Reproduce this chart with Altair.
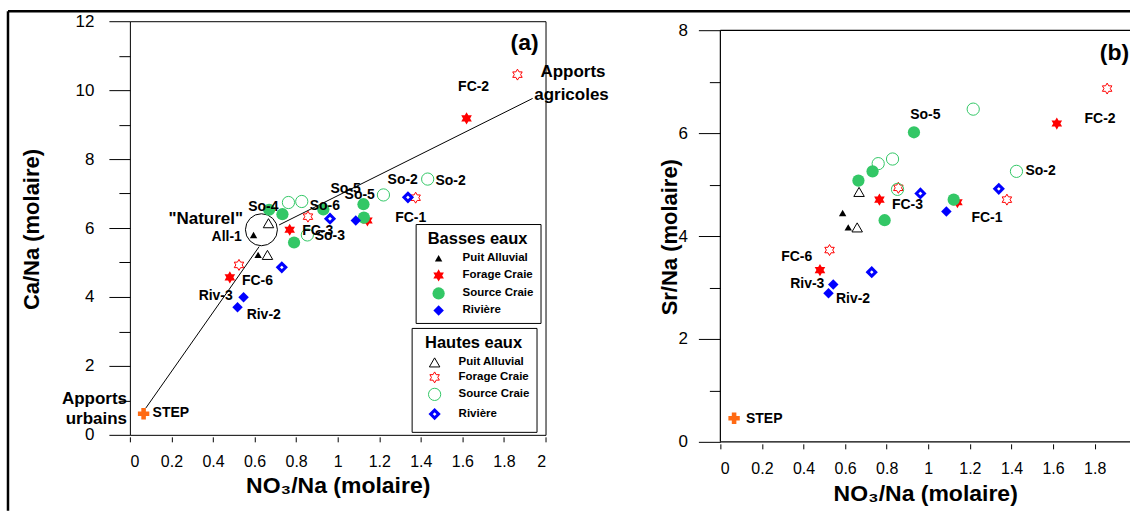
import altair as alt
import pandas as pd

# ---------------- categories / symbols ----------------
TYPES = ["Puit Alluvial", "Forage Craie", "Source Craie", "Rivière"]
STAR = ("M0,-1L0.2887,-0.5L0.866,-0.5L0.5774,0L0.866,0.5L0.2887,0.5L0,1"
        "L-0.2887,0.5L-0.866,0.5L-0.5774,0L-0.866,-0.5L-0.2887,-0.5Z")
SHAPES = ["triangle-up", STAR, "circle", "diamond"]
COLORS = ["#000000", "#ff0000", "#33c766", "#0000ff"]
FILLED_SIZES = [55, 150, 150, 110]
OPEN_SIZES = [110, 120, 150, 64]
OPEN_WIDTHS = [1, 1, 1, 3]

# ---------------- panel (a): Ca/Na vs NO3/Na ----------------
a_be_puit_x = [0.595, 0.617]
a_be_puit_y = [5.80, 5.22]
a_be_forage_x = [1.620, 1.143, 0.769, 0.481]
a_be_forage_y = [9.18, 6.22, 5.95, 4.57]
a_be_source_x = [0.670, 0.734, 0.790, 0.931, 1.124, 1.126]
a_be_source_y = [6.53, 6.40, 5.58, 6.54, 6.69, 6.30]
a_be_riv_x = [0.547, 0.518, 1.087]
a_be_riv_y = [3.99, 3.70, 6.22]

a_he_puit_x = [0.667, 0.662]
a_he_puit_y = [6.14, 5.22]
a_he_forage_x = [1.865, 1.375, 0.857, 0.525]
a_he_forage_y = [10.45, 6.88, 6.33, 4.93]
a_he_source_x = [1.433, 1.220, 0.763, 0.827, 0.854]
a_he_source_y = [7.42, 6.96, 6.74, 6.77, 5.80]
a_he_riv_x = [1.338, 0.963, 0.731]
a_he_riv_y = [6.89, 6.27, 4.86]

a_step_x = [0.066]
a_step_y = [0.61]

# mixing lines (segment id, x, y)
a_line_seg = ["urbain", "urbain", "agricole", "agricole"]
a_line_x = [0.077, 0.622, 0.718, 1.938]
a_line_y = [0.78, 5.46, 6.09, 9.76]

a_nat_x = [0.633]
a_nat_y = [5.95]

a_lab_text = ["FC-2", "So-2", "So-2", "So-5", "So-5", "So-4", "So-6", "FC-1",
              "All-1", "FC-3", "So-3", "FC-6", "Riv-3", "Riv-2", "STEP"]
a_lab_x = [1.654, 1.313, 1.543, 1.038, 1.106, 0.642, 0.938, 1.351,
           0.466, 0.904, 0.962, 0.614, 0.413, 0.644, 0.197]
a_lab_y = [10.10, 7.38, 7.35, 7.12, 6.97, 6.60, 6.65, 6.30,
           5.74, 5.90, 5.78, 4.47, 4.03, 3.48, 0.63]

a_big_text = ["\"Naturel\"", "Apports", "agricoles"]
a_big_x = [0.365, 2.132, 2.125]
a_big_y = [6.26, 10.52, 9.87]

a_urb_text = ["Apports", "urbains"]
a_urb_x = [-0.014, -0.014]
a_urb_y = [1.03, 0.45]

a_tag_text = ["(a)"]
a_tag_x = [1.899]
a_tag_y = [11.36]

# ---------------- panel (b): Sr/Na vs NO3/Na ----------------
b_be_puit_x = [0.588, 0.615]
b_be_puit_y = [4.45, 4.17]
b_be_forage_x = [1.618, 0.765, 1.140, 0.479]
b_be_forage_y = [6.19, 4.71, 4.66, 3.34]
b_be_source_x = [0.664, 0.732, 0.931, 0.790, 1.122]
b_be_source_y = [5.08, 5.26, 6.02, 4.31, 4.71]
b_be_riv_x = [1.087, 0.543, 0.520]
b_be_riv_y = [4.48, 3.06, 2.89]

b_he_puit_x = [0.667, 0.658]
b_he_puit_y = [4.86, 4.17]
b_he_forage_x = [1.860, 0.856, 1.378, 0.525]
b_he_forage_y = [6.87, 4.94, 4.71, 3.73]
b_he_source_x = [0.759, 0.828, 1.216, 1.424, 0.852]
b_he_source_y = [5.41, 5.50, 6.47, 5.26, 4.91]
b_he_riv_x = [0.962, 1.339, 0.728]
b_he_riv_y = [4.83, 4.92, 3.30]

b_step_x = [0.066]
b_step_y = [0.46]

b_lab_text = ["So-5", "FC-2", "So-2", "FC-3", "FC-1", "FC-6", "Riv-3", "Riv-2", "STEP"]
b_lab_x = [0.986, 1.826, 1.540, 0.900, 1.282, 0.367, 0.418, 0.638, 0.211]
b_lab_y = [6.36, 6.28, 5.26, 4.61, 4.35, 3.59, 3.06, 2.78, 0.44]

b_tag_text = ["(b)"]
b_tag_x = [1.895]
b_tag_y = [7.57]

# frame of panel (b) (top, bottom, left) in data units
b_frame_x = [0, 0, 0]
b_frame_x2 = [1.97, 1.97, 0]
b_frame_y = [8, 0, 0]
b_frame_y2 = [8, 0, 8]

FONT = "Liberation Sans"


def group_df(groups):
    rows = []
    for t, xs, ys in groups:
        for x, y in zip(xs, ys):
            rows.append({"x": x, "y": y, "type": t})
    return pd.DataFrame(rows)


def text_df(texts, xs, ys):
    return pd.DataFrame({"x": xs, "y": ys, "label": texts})


def ordinal(rng):
    return alt.Scale(type="ordinal", domain=TYPES, range=rng)


def make_panel(xenc, yenc, be, he, step_x, step_y, labels, legends):
    leg_b, leg_h = legends
    filled = alt.Chart(be).mark_point(filled=True, opacity=1).encode(
        x=xenc, y=yenc,
        shape=alt.Shape("type:N", scale=alt.Scale(domain=TYPES, range=SHAPES), legend=leg_b),
        color=alt.Color("type:N", scale=alt.Scale(domain=TYPES, range=COLORS), legend=leg_b),
        size=alt.Size("type:N", scale=ordinal(FILLED_SIZES), legend=None),
    )
    opened = alt.Chart(he).mark_point(filled=False, opacity=1).encode(
        x=xenc, y=yenc,
        shape=alt.Shape("type:N", scale=alt.Scale(domain=TYPES, range=SHAPES), legend=leg_h),
        color=alt.Color("type:N", scale=alt.Scale(domain=TYPES, range=COLORS), legend=leg_h),
        size=alt.Size("type:N", scale=ordinal(OPEN_SIZES), legend=None),
        strokeWidth=alt.StrokeWidth("type:N", scale=ordinal(OPEN_WIDTHS), legend=None),
    )
    step = alt.Chart(pd.DataFrame({"x": step_x, "y": step_y})).mark_point(
        shape="cross", filled=True, size=130, color="#ff6a13", opacity=1
    ).encode(x=xenc, y=yenc)
    texts = alt.Chart(labels).mark_text(font=FONT, fontSize=14, fontWeight="bold", color="black").encode(
        x=xenc, y=yenc, text="label:N"
    )
    return filled, opened, step, texts


def leg(title, lx, ly, row_pad):
    return alt.Legend(title=title, orient="none", legendX=lx, legendY=ly,
                      symbolStrokeWidth=1.2, rowPadding=row_pad)


# ---------------- axes ----------------
xa = alt.X("x:Q", scale=alt.Scale(domain=[0, 2], nice=False, zero=False),
           axis=alt.Axis(values=[round(i * 0.2, 1) for i in range(11)], format="~g",
                         tickSize=5, offset=2, labelPadding=12, labelFontSize=16,
                         title="NO₃/Na (molaire)", titleFontSize=23, titleY=49,
                         titleBaseline="middle", domain=False, grid=False))
ya = alt.Y("y:Q", scale=alt.Scale(domain=[0, 12], nice=False, zero=False),
           axis=alt.Axis(values=list(range(0, 13)),
                         labelExpr="datum.value % 2 == 0 ? datum.label : ''",
                         tickSize={"condition": {"test": "datum.value % 2 == 0", "value": 21}, "value": 11},
                         labelPadding=15, labelFontSize=17,
                         title="Ca/Na (molaire)", titleFontSize=22, titleX=-98, titleY=208,
                         titleBaseline="middle", domain=False, grid=False))

xb = alt.X("x:Q", scale=alt.Scale(domain=[0, 1.97], nice=False, zero=False),
           axis=alt.Axis(values=[round(i * 0.2, 1) for i in range(10)], format="~g",
                         tickSize=5, offset=2, labelPadding=12, labelFontSize=16,
                         title="NO₃/Na (molaire)", titleFontSize=23, titleY=49.5,
                         titleBaseline="middle", domain=False, grid=False))
yb = alt.Y("y:Q", scale=alt.Scale(domain=[0, 8.18], nice=False, zero=False),
           axis=alt.Axis(values=list(range(0, 9)),
                         labelExpr="datum.value % 2 == 0 ? datum.label : ''",
                         tickSize={"condition": {"test": "datum.value % 2 == 0", "value": 22}, "value": 11},
                         labelPadding=11, labelFontSize=17,
                         title="Sr/Na (molaire)", titleFontSize=22, titleX=-51, titleY=215.7,
                         titleBaseline="middle", domain=False, grid=False))

# ---------------- panel (a) ----------------
a_be = group_df([(TYPES[0], a_be_puit_x, a_be_puit_y), (TYPES[1], a_be_forage_x, a_be_forage_y),
                 (TYPES[2], a_be_source_x, a_be_source_y), (TYPES[3], a_be_riv_x, a_be_riv_y)])
a_he = group_df([(TYPES[0], a_he_puit_x, a_he_puit_y), (TYPES[1], a_he_forage_x, a_he_forage_y),
                 (TYPES[2], a_he_source_x, a_he_source_y), (TYPES[3], a_he_riv_x, a_he_riv_y)])

a_lines = alt.Chart(pd.DataFrame({"seg": a_line_seg, "x": a_line_x, "y": a_line_y})).mark_line(
    color="black", strokeWidth=1).encode(x=xa, y=ya, detail="seg:N")
a_nat = alt.Chart(pd.DataFrame({"x": a_nat_x, "y": a_nat_y})).mark_point(
    shape="circle", size=1024, color="black", strokeWidth=1, filled=False, opacity=1).encode(x=xa, y=ya)

a_f, a_o, a_s, a_t = make_panel(
    xa, ya, a_be, a_he, a_step_x, a_step_y, text_df(a_lab_text, a_lab_x, a_lab_y),
    (leg("Basses eaux", 286, 203, 4), leg("Hautes eaux", 282, 307, 0)))

a_big = alt.Chart(text_df(a_big_text, a_big_x, a_big_y)).mark_text(
    font=FONT, fontSize=17, fontWeight="bold", color="black").encode(x=xa, y=ya, text="label:N")
a_urb = alt.Chart(text_df(a_urb_text, a_urb_x, a_urb_y)).mark_text(
    font=FONT, fontSize=17, fontWeight="bold", color="black", align="right").encode(x=xa, y=ya, text="label:N")
a_tag = alt.Chart(text_df(a_tag_text, a_tag_x, a_tag_y)).mark_text(
    font=FONT, fontSize=23, fontWeight="bold", color="black").encode(x=xa, y=ya, text="label:N")

# outer figure border (decoration)
border_top = alt.Chart().mark_rule(color="black", strokeWidth=2.5).encode(
    x=alt.value(-122), x2=alt.value(1001), y=alt.value(-10))
border_left = alt.Chart().mark_rule(color="black", strokeWidth=2.5).encode(
    x=alt.value(-122), y=alt.value(-10), y2=alt.value(490))

panel_a = alt.layer(
    border_top, border_left, a_lines, a_nat, a_o, a_f, a_s, a_t, a_big, a_urb, a_tag
).resolve_scale(shape="independent", color="independent", size="independent",
                strokeWidth="independent").properties(width=416, height=414)

# ---------------- panel (b) ----------------
b_be = group_df([(TYPES[0], b_be_puit_x, b_be_puit_y), (TYPES[1], b_be_forage_x, b_be_forage_y),
                 (TYPES[2], b_be_source_x, b_be_source_y), (TYPES[3], b_be_riv_x, b_be_riv_y)])
b_he = group_df([(TYPES[0], b_he_puit_x, b_he_puit_y), (TYPES[1], b_he_forage_x, b_he_forage_y),
                 (TYPES[2], b_he_source_x, b_he_source_y), (TYPES[3], b_he_riv_x, b_he_riv_y)])

b_frame = alt.Chart(pd.DataFrame({"x": b_frame_x, "x2": b_frame_x2, "y": b_frame_y, "y2": b_frame_y2})).mark_rule(
    color="black", strokeWidth=1.2).encode(x=xb, y=yb, x2="x2:Q", y2="y2:Q")

b_f, b_o, b_s, b_t = make_panel(
    xb, yb, b_be, b_he, b_step_x, b_step_y, text_df(b_lab_text, b_lab_x, b_lab_y), (None, None))
b_tag = alt.Chart(text_df(b_tag_text, b_tag_x, b_tag_y)).mark_text(
    font=FONT, fontSize=23, fontWeight="bold", color="black").encode(x=xb, y=yb, text="label:N")

panel_b = alt.layer(b_frame, b_o, b_f, b_s, b_t, b_tag).resolve_scale(
    shape="independent", color="independent", size="independent", strokeWidth="independent"
).properties(width=410, height=421, view=alt.ViewBackground(stroke="transparent"))

chart = alt.hconcat(panel_a, panel_b, spacing=175, bounds="flush").resolve_scale(
    shape="independent", color="independent", size="independent", strokeWidth="independent"
).properties(
    padding={"left": 6, "top": 9, "right": 0, "bottom": 0}, background="white"
).configure(font=FONT).configure_view(stroke="black", strokeWidth=1).configure_axis(
    labelFont=FONT, titleFont=FONT, labelColor="black", titleColor="black", tickColor="black",
    titleFontWeight="bold", tickWidth=1
).configure_legend(
    titleFont=FONT, labelFont=FONT, titleFontSize=16.5, titleFontWeight="bold", titleColor="black",
    labelFontSize=11.5, labelFontWeight="bold", labelColor="black", strokeColor="black",
    fillColor="white", padding=7, titleAnchor="middle", titleAlign="center", symbolSize=130,
    labelOffset=17, symbolOffset=9, titlePadding=5, cornerRadius=0
)

chart.save("out.html", embed_options={"renderer": "svg", "actions": False})
